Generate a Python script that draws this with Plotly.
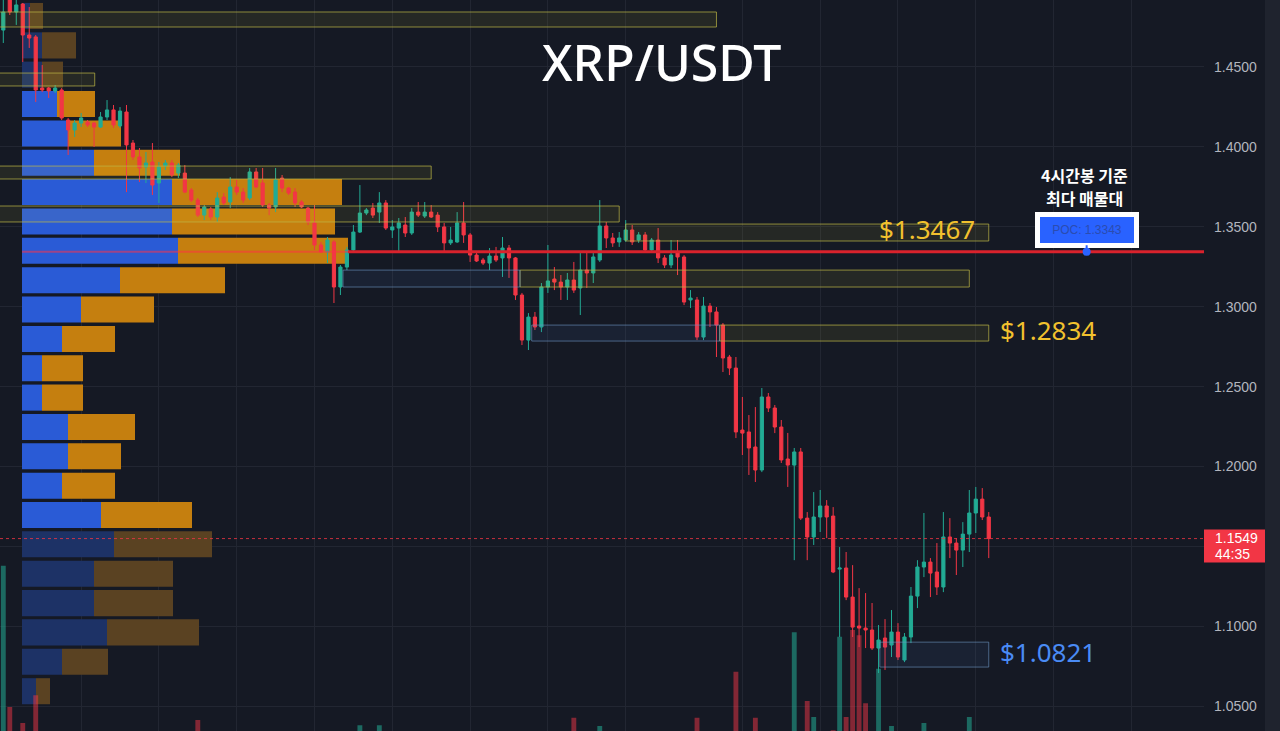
import plotly.graph_objects as go

# ---------------- data ----------------
candle_open = [1.4731, 1.4925, 1.4844, 1.4894, 1.4700, 1.4688, 1.4368, 1.4368, 1.4350, 1.4356,
               1.4168, 1.4106, 1.4149, 1.4156, 1.4149, 1.4124, 1.4187, 1.4231, 1.4131, 1.4218,
               1.4024, 1.3937, 1.3874, 1.3905, 1.3774, 1.3880, 1.3899, 1.3836, 1.3836, 1.3730,
               1.3667, 1.3573, 1.3611, 1.3561, 1.3686, 1.3655, 1.3749, 1.3717, 1.3680, 1.3843,
               1.3774, 1.3636, 1.3624, 1.3805, 1.3742, 1.3717, 1.3655, 1.3617, 1.3524, 1.3386,
               1.3342, 1.3405, 1.3123, 1.3248, 1.3355, 1.3467, 1.3586, 1.3617, 1.3592, 1.3649,
               1.3480, 1.3492, 1.3511, 1.3461, 1.3592, 1.3567, 1.3592, 1.3573, 1.3499, 1.3399,
               1.3405, 1.3524, 1.3449, 1.3323, 1.3292, 1.3273, 1.3317, 1.3305, 1.3367, 1.3305,
               1.3073, 1.2791, 1.2935, 1.2873, 1.3123, 1.3173, 1.3154, 1.3123, 1.3167, 1.3117,
               1.3229, 1.3211, 1.3292, 1.3505, 1.3430, 1.3405, 1.3417, 1.3480, 1.3417, 1.3449,
               1.3355, 1.3417, 1.3305, 1.3261, 1.3336, 1.3311, 1.3042, 1.3042, 1.2810, 1.3004,
               1.2967, 1.2885, 1.2685, 1.2616, 1.2228, 1.2216, 1.2122, 1.1978, 1.2435, 1.2366,
               1.2247, 1.2047, 1.2009, 1.2091, 1.1677, 1.1559, 1.1684, 1.1753, 1.1690, 1.1358,
               1.1365, 1.1183, 1.1002, 1.0989, 1.0977, 1.0864, 1.0927, 1.0883, 1.0964, 1.0789,
               1.0933, 1.1189, 1.1371, 1.1402, 1.1340, 1.1246, 1.1559, 1.1521, 1.1477, 1.1577,
               1.1709, 1.1796, 1.1684]
candle_high = [1.4930, 1.4935, 1.4919, 1.4900, 1.4875, 1.4700, 1.4512, 1.4375, 1.4387, 1.4368,
               1.4181, 1.4168, 1.4212, 1.4168, 1.4156, 1.4218, 1.4293, 1.4262, 1.4249, 1.4262,
               1.4043, 1.3993, 1.3968, 1.4024, 1.3905, 1.3918, 1.3918, 1.3899, 1.3886, 1.3742,
               1.3680, 1.3636, 1.3624, 1.3717, 1.3711, 1.3811, 1.3793, 1.3742, 1.3868, 1.3868,
               1.3868, 1.3649, 1.3868, 1.3824, 1.3749, 1.3742, 1.3667, 1.3624, 1.3636, 1.3405,
               1.3436, 1.3417, 1.3261, 1.3374, 1.3511, 1.3761, 1.3617, 1.3649, 1.3717, 1.3667,
               1.3542, 1.3555, 1.3561, 1.3617, 1.3655, 1.3655, 1.3636, 1.3592, 1.3524, 1.3499,
               1.3592, 1.3655, 1.3461, 1.3342, 1.3305, 1.3367, 1.3374, 1.3436, 1.3386, 1.3311,
               1.3086, 1.2960, 1.2967, 1.3148, 1.3386, 1.3248, 1.3198, 1.3211, 1.3280, 1.3342,
               1.3336, 1.3336, 1.3667, 1.3530, 1.3461, 1.3467, 1.3542, 1.3511, 1.3467, 1.3467,
               1.3430, 1.3492, 1.3323, 1.3417, 1.3417, 1.3323, 1.3104, 1.3061, 1.3061, 1.3023,
               1.2998, 1.2898, 1.2698, 1.2685, 1.2435, 1.2322, 1.2372, 1.2491, 1.2460, 1.2385,
               1.2291, 1.2210, 1.2116, 1.2116, 1.1715, 1.1840, 1.1853, 1.1790, 1.1746, 1.1496,
               1.1465, 1.1383, 1.1239, 1.1208, 1.1146, 1.1008, 1.1045, 1.1102, 1.1020, 1.0958,
               1.1246, 1.1414, 1.1709, 1.1427, 1.1521, 1.1715, 1.1677, 1.1552, 1.1652, 1.1853,
               1.1872, 1.1865, 1.1715]
candle_low = [1.4650, 1.4825, 1.4763, 1.4531, 1.4619, 1.4281, 1.4343, 1.4306, 1.4337, 1.4168,
              1.3949, 1.4062, 1.4124, 1.4124, 1.3999, 1.4118, 1.4168, 1.4118, 1.4118, 1.3717,
              1.3918, 1.3780, 1.3774, 1.3699, 1.3649, 1.3855, 1.3811, 1.3805, 1.3711, 1.3655,
              1.3561, 1.3542, 1.3542, 1.3530, 1.3636, 1.3617, 1.3699, 1.3649, 1.3667, 1.3742,
              1.3624, 1.3573, 1.3592, 1.3717, 1.3699, 1.3624, 1.3617, 1.3511, 1.3355, 1.3336,
              1.3273, 1.3023, 1.3073, 1.3229, 1.3342, 1.3461, 1.3573, 1.3555, 1.3524, 1.3480,
              1.3430, 1.3336, 1.3436, 1.3449, 1.3561, 1.3555, 1.3555, 1.3467, 1.3342, 1.3386,
              1.3399, 1.3399, 1.3280, 1.3280, 1.3261, 1.3229, 1.3280, 1.3186, 1.3180, 1.3042,
              1.2760, 1.2729, 1.2854, 1.2841, 1.3086, 1.3104, 1.3042, 1.3042, 1.3086, 1.2948,
              1.3117, 1.3148, 1.3280, 1.3367, 1.3374, 1.3374, 1.3405, 1.3386, 1.3399, 1.3336,
              1.3342, 1.3273, 1.3242, 1.3242, 1.3198, 1.3010, 1.2992, 1.2791, 1.2791, 1.2873,
              1.2685, 1.2591, 1.2572, 1.2178, 1.2072, 1.1947, 1.1903, 1.1965, 1.2341, 1.2209,
              1.2022, 1.1872, 1.1414, 1.1665, 1.1414, 1.1509, 1.1590, 1.1552, 1.1333, 1.0933,
              1.1164, 1.0933, 1.0870, 1.0864, 1.0852, 1.0708, 1.0727, 1.0808, 1.0789, 1.0776,
              1.0895, 1.1114, 1.1308, 1.1183, 1.1196, 1.1214, 1.1427, 1.1321, 1.1371, 1.1465,
              1.1584, 1.1665, 1.1427]
candle_close = [1.4844, 1.4844, 1.4888, 1.4700, 1.4681, 1.4356, 1.4356, 1.4350, 1.4368, 1.4181,
                1.4106, 1.4149, 1.4181, 1.4137, 1.4124, 1.4187, 1.4231, 1.4137, 1.4224, 1.4012,
                1.3937, 1.3868, 1.3899, 1.3761, 1.3874, 1.3899, 1.3824, 1.3886, 1.3717, 1.3667,
                1.3573, 1.3624, 1.3561, 1.3680, 1.3649, 1.3749, 1.3717, 1.3667, 1.3843, 1.3749,
                1.3636, 1.3617, 1.3793, 1.3742, 1.3711, 1.3649, 1.3624, 1.3530, 1.3386, 1.3342,
                1.3417, 1.3123, 1.3248, 1.3355, 1.3467, 1.3586, 1.3605, 1.3573, 1.3649, 1.3492,
                1.3499, 1.3524, 1.3461, 1.3592, 1.3573, 1.3592, 1.3561, 1.3499, 1.3399, 1.3417,
                1.3524, 1.3449, 1.3323, 1.3286, 1.3273, 1.3317, 1.3292, 1.3367, 1.3305, 1.3073,
                1.2791, 1.2935, 1.2873, 1.3123, 1.3161, 1.3154, 1.3123, 1.3167, 1.3104, 1.3229,
                1.3211, 1.3311, 1.3505, 1.3430, 1.3399, 1.3430, 1.3480, 1.3405, 1.3449, 1.3355,
                1.3417, 1.3305, 1.3261, 1.3323, 1.3311, 1.3029, 1.3054, 1.2810, 1.3004, 1.2967,
                1.2885, 1.2679, 1.2616, 1.2216, 1.2209, 1.2116, 1.1978, 1.2435, 1.2366, 1.2247,
                1.2041, 1.2009, 1.2091, 1.1677, 1.1559, 1.1684, 1.1753, 1.1684, 1.1340, 1.1365,
                1.1183, 1.0995, 1.0989, 1.0977, 1.0864, 1.0914, 1.0870, 1.0964, 1.0808, 1.0933,
                1.1189, 1.1371, 1.1402, 1.1333, 1.1246, 1.1559, 1.1521, 1.1477, 1.1577, 1.1709,
                1.1796, 1.1684, 1.1549]
volume = [72.6, 53.3, 44, 51.1, 40, 54.9, 38, 30, 28, 42,
          45, 32, 30, 26, 35, 30, 33, 31, 29, 46,
          38, 40, 35, 44, 39, 27, 30, 28, 36, 34,
          51.5, 33, 29, 37, 28, 36, 30, 29, 38, 32,
          37, 27, 40, 31, 26, 30, 25, 34, 45, 30,
          36, 48, 38, 34, 37, 50.8, 28, 30, 50.8, 36,
          28, 35, 30, 36, 27, 26, 25, 31, 38, 28,
          35, 37, 36, 26, 24, 30, 27, 39, 36, 42,
          48, 40, 30, 44, 41, 29, 31, 30, 51.8, 44,
          30, 35, 50.7, 36, 28, 27, 32, 30, 26, 33,
          28, 37, 30, 34, 38, 46, 33, 51.8, 42, 30,
          45, 48, 35, 58.1, 47, 46, 51.8, 49, 32, 37,
          44, 47, 63.5, 48, 54.1, 51.9, 40, 38, 50.1, 62.9,
          51.9, 63.8, 63.1, 53.8, 48, 58.5, 45, 50.7, 42, 40,
          47, 46, 51.1, 38, 40, 48, 36, 35, 42, 51.9,
          44, 38, 36]

# volume profile (24 price rows, buy / sell volume per row)
profile_price = [1.4819, 1.4635, 1.4452, 1.4268, 1.4084, 1.3901, 1.3717, 1.3533, 1.3350, 1.3166,
                 1.2982, 1.2798, 1.2615, 1.2431, 1.2247, 1.2064, 1.1880, 1.1696, 1.1513, 1.1329,
                 1.1145, 1.0962, 1.0778, 1.0594]
profile_buy = [4, 10, 10, 17.5, 23, 36, 75, 75, 78, 49, 29.5, 20, 10, 10, 23, 23, 20, 39.5,
               46, 36, 36, 42.5, 20, 7]
profile_sell = [6.5, 17, 10.5, 19, 26.5, 43, 85, 81.5, 85, 52.5, 36.5, 26.5, 20.5, 20.5, 33.5,
                26.5, 26.5, 45.5, 49, 39.5, 39.5, 46, 23, 7]
profile_in_value_area = [False, False, False] + [True] * 15 + [False] * 6
profile_row_height = 0.0163
poc_price = 1.3343

# supply / demand zones: candle index start/end, price low/high
yellow_start = [-2, -2, -2, -2, 96, 79.7, 110.5]
yellow_end = [110, 14.1, 66, 95, 152, 149, 152]
yellow_low = [1.4750, 1.4381, 1.3799, 1.3530, 1.3411, 1.3123, 1.2785]
yellow_high = [1.4844, 1.4462, 1.3880, 1.3630, 1.3517, 1.3229, 1.2885]
blue_start = [52.4, 81.5, 135.2]
blue_end = [79.7, 110.5, 152]
blue_low = [1.3123, 1.2785, 1.0745]
blue_high = [1.3229, 1.2885, 1.0901]

key_levels = [1.3467, 1.2834, 1.0821]
current_price = 1.1549
countdown = "44:35"
grid_candles = [12, 24, 36, 48, 60, 72, 84, 96, 114, 126, 138, 150, 162, 174]
price_ticks = [1.05, 1.10, 1.15, 1.20, 1.25, 1.30, 1.35, 1.40, 1.45]
note_lines = ["4시간봉 기준", "최다 매물대"]

# ---------------- styles ----------------
BG = "#151924"
GRID = "#222632"
UP = "#22ab94"
DOWN = "#f23645"
BUY_SOLID, SELL_SOLID = "#2a5bd6", "#c57f0f"
BUY_FADED, SELL_FADED = "#1d3266", "#5a4222"
AXIS_TXT = "#b2b5be"

idx = list(range(len(candle_open)))
x_range = [-0.51, 185.2]

fig = go.Figure()

# volume profile on base axes (x = profile volume, y = price)
fig.add_trace(go.Bar(
    orientation="h", y=profile_price, x=profile_buy, base=[0] * len(profile_buy),
    width=profile_row_height,
    marker=dict(color=[BUY_SOLID if v else BUY_FADED for v in profile_in_value_area], line_width=0),
    xaxis="x", yaxis="y", hoverinfo="skip"))
fig.add_trace(go.Bar(
    orientation="h", y=profile_price, x=profile_sell, base=profile_buy,
    width=profile_row_height,
    marker=dict(color=[SELL_SOLID if v else SELL_FADED for v in profile_in_value_area], line_width=0),
    xaxis="x", yaxis="y", hoverinfo="skip"))

# volume bars
vol_colors = ["rgba(34,171,148,0.55)" if c >= o else "rgba(242,54,69,0.5)"
              for o, c in zip(candle_open, candle_close)]
fig.add_trace(go.Bar(x=idx, y=volume, width=0.75, marker=dict(color=vol_colors, line_width=0),
                     xaxis="x2", yaxis="y2", hoverinfo="skip"))

# candles
fig.add_trace(go.Candlestick(
    x=idx, open=candle_open, high=candle_high, low=candle_low, close=candle_close,
    increasing=dict(line=dict(color=UP, width=1), fillcolor=UP),
    decreasing=dict(line=dict(color=DOWN, width=1), fillcolor=DOWN),
    whiskerwidth=0, xaxis="x3", yaxis="y", hoverinfo="skip"))

shapes = []
for x0, x1, lo, hi in zip(yellow_start, yellow_end, yellow_low, yellow_high):
    shapes.append(dict(type="rect", xref="x3", yref="y", x0=x0, x1=x1, y0=lo, y1=hi,
                       line=dict(color="rgba(190,182,70,0.7)", width=1),
                       fillcolor="rgba(255,235,59,0.07)", layer="above"))
for x0, x1, lo, hi in zip(blue_start, blue_end, blue_low, blue_high):
    shapes.append(dict(type="rect", xref="x3", yref="y", x0=x0, x1=x1, y0=lo, y1=hi,
                       line=dict(color="rgba(110,150,195,0.6)", width=1),
                       fillcolor="rgba(80,120,190,0.10)", layer="above"))
# POC line through profile row, then extended red line
poc_row = min(range(len(profile_price)), key=lambda k: abs(profile_price[k] - poc_price))
poc_end = profile_buy[poc_row] + profile_sell[poc_row]
shapes.append(dict(type="line", xref="x", yref="y", x0=0, x1=poc_end, y0=poc_price, y1=poc_price,
                   line=dict(color="rgba(255,50,70,0.55)", width=2), layer="above"))
shapes.append(dict(type="line", xref="x", yref="y", x0=poc_end, x1=591, y0=poc_price, y1=poc_price,
                   line=dict(color="#d9222c", width=3), layer="above"))
# current price dotted line
shapes.append(dict(type="line", xref="paper", yref="y", x0=0, x1=1, y0=current_price, y1=current_price,
                   line=dict(color="rgba(242,54,69,0.8)", width=1, dash="dot"), layer="above"))
# current price label box on the axis
shapes.append(dict(type="rect", xref="paper", yref="y", ysizemode="pixel", yanchor=current_price,
                   x0=1.0, x1=1265 / 1204, y0=-24, y1=9, fillcolor=DOWN, line_width=0, layer="above"))
# right edge strip
shapes.append(dict(type="rect", xref="paper", yref="paper", x0=1265 / 1204, x1=1280 / 1204, y0=0, y1=1,
                   fillcolor="#1f232e", line_width=0, layer="above"))

annotations = [
    dict(text="XRP/USDT", xref="paper", yref="paper", x=661 / 1204, y=1 - 62 / 731,
         xanchor="center", yanchor="middle", showarrow=False,
         font=dict(family="Noto Sans", size=50, color="#ffffff", weight=500)),
    dict(text="<b>%s</b>" % note_lines[0], xref="paper", yref="paper", x=1084 / 1204, y=1 - 175 / 731,
         xanchor="center", yanchor="middle", showarrow=False,
         font=dict(family="Noto Sans CJK KR", size=16, color="#ffffff")),
    dict(text="<b>%s</b>" % note_lines[1], xref="paper", yref="paper", x=1084 / 1204, y=1 - 198 / 731,
         xanchor="center", yanchor="middle", showarrow=False,
         font=dict(family="Noto Sans CJK KR", size=16, color="#ffffff")),
    dict(text="POC: %.4f" % poc_price, xref="x3", yref="y", x=167.1, y=poc_price,
         ax=0, ay=-22, showarrow=True, arrowhead=6, arrowsize=1, arrowwidth=2, arrowcolor="#2962ff",
         bgcolor="#2962ff", bordercolor="#ffffff", borderwidth=5, borderpad=3, width=88, height=20,
         font=dict(family="Liberation Sans", size=12, color="#2b4cb0")),
    dict(text="$%.4f" % key_levels[0], xref="x3", yref="y", x=yellow_end[4], y=key_levels[0],
         xanchor="right", yanchor="middle", xshift=-12, yshift=3, showarrow=False,
         font=dict(family="Noto Sans", size=26, color="#f2c12e")),
    dict(text="$%.4f" % key_levels[1], xref="x3", yref="y", x=yellow_end[6], y=key_levels[1],
         xanchor="left", yanchor="middle", xshift=9, yshift=3, showarrow=False,
         font=dict(family="Noto Sans", size=26, color="#f2c12e")),
    dict(text="$%.4f" % key_levels[2], xref="x3", yref="y", x=blue_end[2], y=key_levels[2],
         xanchor="left", yanchor="middle", xshift=9, yshift=3, showarrow=False,
         font=dict(family="Noto Sans", size=26, color="#4a8bf5")),
    dict(text="%.4f" % current_price, xref="paper", yref="y", x=1.0, y=current_price,
         xanchor="left", yanchor="middle", xshift=9, yshift=1, showarrow=False,
         font=dict(family="Liberation Sans", size=14, color="#ffffff")),
    dict(text=countdown, xref="paper", yref="y", x=1.0, y=current_price,
         xanchor="left", yanchor="middle", xshift=9, yshift=-15, showarrow=False,
         font=dict(family="Liberation Sans", size=14, color="#ffffff")),
]

tick_text = ["" if abs(t - current_price) < 0.012 else "%.4f" % t for t in price_ticks]

fig.update_layout(
    width=1280, height=731, margin=dict(l=0, r=76, t=0, b=0),
    paper_bgcolor=BG, plot_bgcolor=BG, showlegend=False, barmode="overlay",
    hovermode=False, shapes=shapes, annotations=annotations,
    xaxis=dict(range=[-11, 591], visible=False, fixedrange=True),
    yaxis=dict(range=[1.0345, 1.4919], side="right", tickvals=price_ticks, ticktext=tick_text,
               showgrid=True, gridcolor=GRID, gridwidth=1, zeroline=False, ticks="",
               ticklabelstandoff=9, tickfont=dict(family="Liberation Sans", size=14, color=AXIS_TXT),
               showline=False),
    xaxis2=dict(overlaying="x", range=x_range, visible=False),
    yaxis2=dict(overlaying="y", range=[50, 150], visible=False),
    xaxis3=dict(overlaying="x", range=x_range, tickvals=grid_candles, showticklabels=False,
                showgrid=True, gridcolor=GRID, gridwidth=1, zeroline=False, ticks="",
                rangeslider=dict(visible=False), showline=False),
)

fig.write_html("out.html")
